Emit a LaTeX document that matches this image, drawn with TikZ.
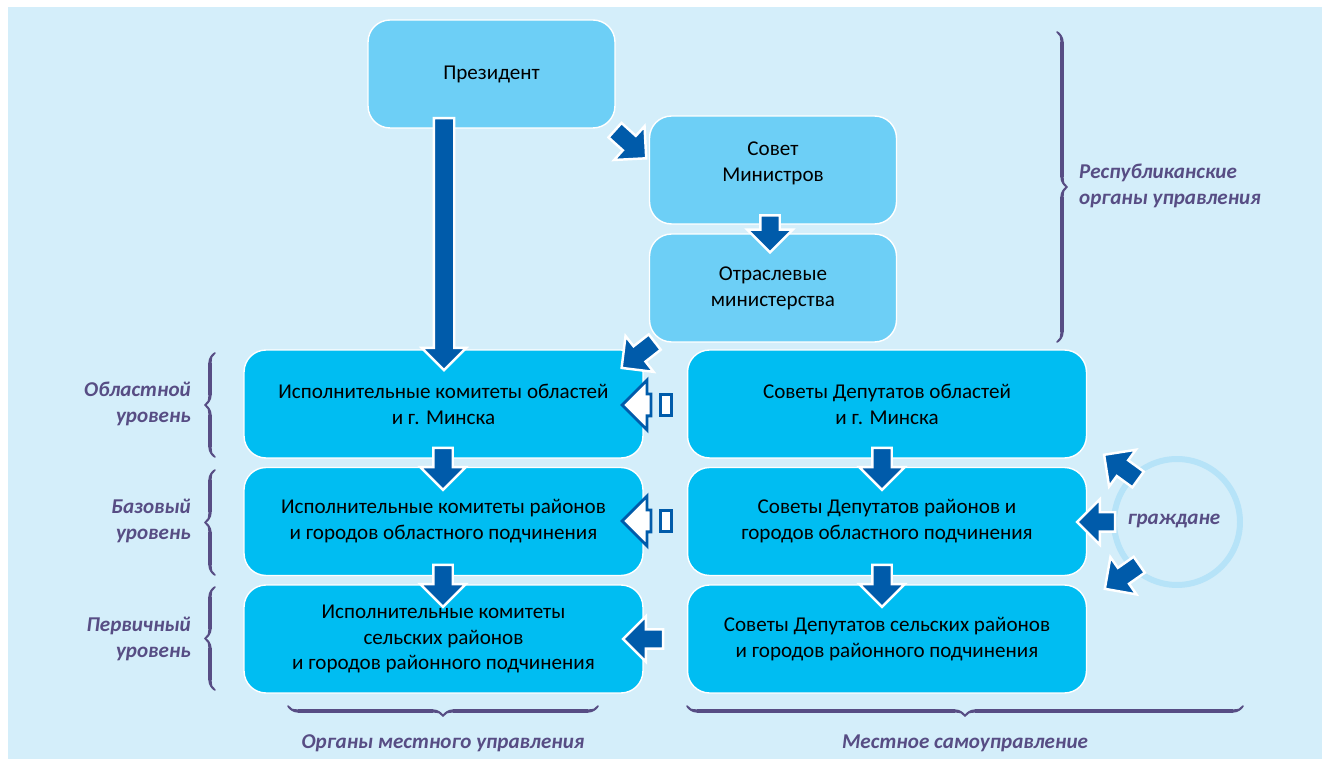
\documentclass[tikz,border=0pt]{standalone}
\usepackage{fontspec}
\setmainfont{Carlito}
\usetikzlibrary{shapes.arrows,decorations.pathreplacing,calligraphy}

\definecolor{bgblue}{HTML}{D4EEFA}
\definecolor{boxlight}{HTML}{6DCFF6}
\definecolor{boxcyan}{HTML}{00BDF2}
\definecolor{arrowblue}{HTML}{005BAA}
\definecolor{labelpurple}{HTML}{574D84}
\definecolor{ringblue}{HTML}{B6E3F8}

\begin{document}
\begin{tikzpicture}[x=0.02cm,y=-0.02cm,font=\fontsize{12}{14.7}\selectfont,
  top box/.style={rectangle,rounded corners=0.44cm,draw=white,line width=0.8pt,
    fill=boxlight,align=center,minimum width=4.94cm,minimum height=2.16cm},
  low box/.style={top box,fill=boxcyan,minimum width=7.98cm},
  blk arrow/.style={single arrow,fill=arrowblue,draw=white,line width=1.4pt,
    inner xsep=0pt,inner ysep=0.17cm,single arrow head extend=0.26cm,
    single arrow head indent=0pt,minimum height=0.84cm},
  hollow arrow/.style={blk arrow,fill=white,draw=arrowblue,line width=1.6pt,
    inner ysep=0.19cm,single arrow head extend=0.28cm,minimum height=0.58cm},
  hollow tail/.style={rectangle,fill=white,draw=arrowblue,line width=1.6pt,
    inner sep=0pt,minimum width=0.22cm,minimum height=0.42cm},
  side label/.style={font=\fontsize{12}{14.7}\selectfont\bfseries\itshape,
    text=labelpurple,align=right},
  brace line/.style={decorate,decoration={calligraphic brace,amplitude=0.2cm},
    draw=labelpurple,pen colour={labelpurple},line width=1.9pt}]

  \useasboundingbox (0,0) rectangle (1322,759);
  \fill[bgblue] (8,7) rectangle (1322,759);

  % republican level
  \node[top box] (pres) at (491.5,74) {Президент};
  \node[top box,label={[align=center,yshift=4pt]center:Совет\\Министров}] (sovmin) at (773,170) {};
  \node[top box] (minist) at (773,288) {Отраслевые\\министерства};

  % local level
  \node[low box] (ik1) at (443.5,404) {Исполнительные комитеты областей\\и г. Минска};
  \node[low box] (ik2) at (443.5,521.5) {Исполнительные комитеты районов\\и городов областного подчинения};
  \node[low box] (ik3) at (443.5,639) {Исполнительные комитеты\\сельских районов\\и городов районного подчинения};
  \node[low box] (sd1) at (887,404) {Советы Депутатов областей\\и г. Минска};
  \node[low box] (sd2) at (887,521.5) {Советы Депутатов районов и\\городов областного подчинения};
  \node[low box] (sd3) at (887,639) {Советы Депутатов сельских районов\\и городов районного подчинения};

  % arrows between boxes
  \node[blk arrow,rotate=-90,minimum height=5.04cm,inner ysep=0.18cm,
    single arrow head extend=0.24cm] (pa) at (444,239) {};
  \node[blk arrow,rotate=-42] (a1) at (627,141) {};
  \node[blk arrow,rotate=-90,minimum height=0.74cm] (a2) at (770,229) {};
  \node[blk arrow,rotate=-142] (a3) at (642,352) {};
  \node[blk arrow,rotate=-90] (a4) at (443,464) {};
  \node[blk arrow,rotate=-90] (a5) at (443,581) {};
  \node[blk arrow,rotate=-90] (a6) at (882,464) {};
  \node[blk arrow,rotate=-90] (a7) at (882,581) {};
  \node[hollow arrow,rotate=180] (h1) at (642,405) {};
  \node[hollow tail] (t1) at (666,405) {};
  \node[hollow arrow,rotate=180] (h2) at (642,521) {};
  \node[hollow tail] (t2) at (666,521) {};
  \node[blk arrow,rotate=180,minimum height=0.8cm] (a8) at (648,639) {};

  % citizens
  \draw[ringblue,line width=3.4pt] (1177,522) circle [radius=1.26cm];
  \node[blk arrow,rotate=144] (c1) at (1125,470) {};
  \node[blk arrow,rotate=180,minimum height=0.76cm] (c2) at (1101,522) {};
  \node[blk arrow,rotate=-145] (c3) at (1126,574) {};
  \node[side label] (cit) at (1174,521) {граждане};

  % braces and labels
  \draw[brace line] (215,457) -- (215,353);
  \draw[brace line] (215,575) -- (215,470);
  \draw[brace line] (215,690) -- (215,587);
  \draw[brace line] (1057,32) -- (1057,342);
  \draw[brace line] (598,706) -- (288,706);
  \draw[brace line] (1243,706) -- (687,706);

  \node[side label,anchor=east] (lev1) at (197,404) {Областной\\уровень};
  \node[side label,anchor=east] (lev2) at (197,521) {Базовый\\уровень};
  \node[side label,anchor=east] (lev3) at (197,639) {Первичный\\уровень};
  \node[side label,anchor=west,align=left] (rep) at (1073,186) {Республиканские\\органы управления};
  \node[side label] (loc) at (443,743) {Органы местного управления};
  \node[side label] (self) at (965,743) {Местное самоуправление};
\end{tikzpicture}
\end{document}
